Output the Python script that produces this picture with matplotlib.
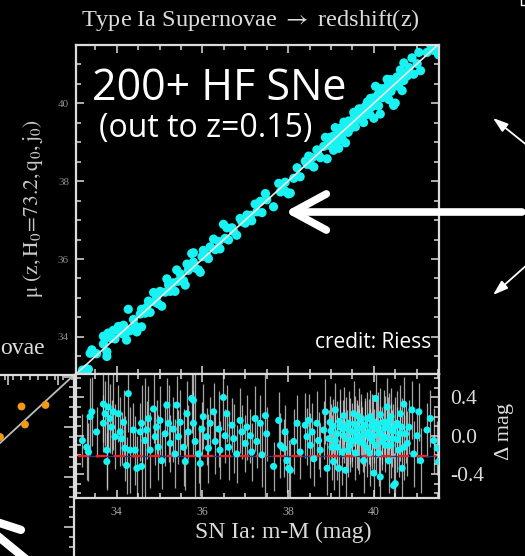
import matplotlib
matplotlib.use('Agg')
import matplotlib.pyplot as plt
from matplotlib.lines import Line2D
from matplotlib.ticker import MultipleLocator, FixedLocator, FixedFormatter
import numpy as np

plt.rcParams['font.family'] = ['Liberation Serif', 'DejaVu Serif']
plt.rcParams['mathtext.fontset'] = 'stix'

# SN Ia distance modulus (x) and Hubble residual (Delta mag) with error bars
resid_m = [
    33.20, 33.30, 33.34, 33.38, 33.42, 33.53, 33.69, 33.73, 33.69, 33.77,
    33.77, 33.80, 33.84, 33.88, 33.92, 33.96, 34.04, 34.08, 34.12, 34.16,
    34.19, 34.23, 34.27, 34.31, 34.39, 34.43, 34.47, 34.55, 34.58, 34.58,
    34.66, 34.70, 34.74, 34.78, 34.86, 34.90, 34.93, 34.97, 35.01, 35.05,
    35.13, 35.17, 35.21, 35.25, 35.32, 35.36, 35.40, 35.44, 35.48, 35.56,
    35.60, 35.64, 35.67, 35.75, 35.79, 35.79, 35.83, 35.91, 35.95, 35.99,
    36.02, 36.10, 36.14, 36.18, 36.26, 36.30, 36.38, 36.41, 36.49, 36.53,
    36.57, 36.61, 36.69, 36.73, 36.80, 36.88, 36.92, 37.00, 37.04, 37.12,
    37.15, 37.23, 37.27, 37.35, 37.39, 37.47, 37.50, 37.66, 37.78, 37.82,
    37.90, 37.93, 37.97, 38.01, 38.05, 38.13, 38.21, 38.28, 38.40, 38.44,
    38.48, 38.52, 38.56, 38.60, 38.67, 38.71, 38.75, 38.83, 38.87, 38.91,
    38.95, 38.98, 39.02, 39.06, 39.10, 39.14, 39.18, 39.22, 39.26, 39.30,
    39.34, 39.37, 39.41, 39.45, 39.49, 39.53, 39.57, 39.61, 39.65, 39.69,
    39.72, 39.76, 39.80, 39.84, 39.88, 39.92, 39.96, 40.00, 40.04, 40.07,
    40.11, 40.15, 40.19, 40.23, 40.27, 40.31, 40.35, 40.39, 40.43, 40.46,
    40.50, 40.54, 40.58, 40.62, 40.66, 40.70, 40.74, 40.78, 40.82, 40.89,
    40.93, 41.01, 41.05, 41.09, 41.24, 41.32, 41.40, 41.48, 41.51, 39.00,
    39.10, 39.20, 39.30, 39.35, 39.45, 39.50, 39.55, 39.60, 39.70, 39.75,
    39.80, 39.85, 39.90, 39.95, 40.00, 40.05, 40.10, 40.15, 40.20, 40.25,
    40.30, 40.35, 40.40, 40.45, 40.50, 40.55, 40.60, 40.65, 39.15, 39.40,
    39.65, 39.90, 40.15, 40.40, 40.70, 39.05, 39.28, 39.62, 39.98, 40.33,
]
resid_dm = [
    -0.05, -0.12, -0.17, 0.20, 0.25, 0.04, 0.33, 0.23, 0.13, -0.15,
    -0.27, 0.30, 0.18, 0.09, 0.25, -0.01, 0.23, 0.04, -0.03, 0.14,
    -0.13, -0.31, 0.44, -0.15, 0.06, -0.15, -0.34, 0.04, 0.13, -0.32,
    -0.05, 0.06, 0.18, -0.15, 0.28, -0.01, 0.09, -0.12, 0.16, -0.26,
    0.02, 0.32, 0.13, -0.08, 0.07, -0.19, 0.32, -0.01, 0.14, -0.12,
    -0.27, 0.23, 0.04, 0.39, 0.37, 0.13, -0.06, -0.19, -0.29, 0.07,
    0.20, -0.01, -0.13, 0.13, 0.25, -0.06, 0.07, -0.15, 0.40, 0.00,
    0.23, -0.12, 0.11, -0.03, -0.19, 0.16, 0.04, -0.08, 0.09, 0.00,
    -0.17, 0.18, -0.06, 0.13, -0.20, 0.21, 0.02, -0.32, 0.16, -0.10,
    -0.13, 0.04, -0.26, -0.34, -0.36, -0.06, 0.13, -0.17, 0.11, -0.01,
    0.16, -0.10, 0.04, -0.24, 0.13, -0.05, -0.15, 0.06, 0.25, -0.34,
    -0.03, 0.14, -0.12, -0.27, 0.27, 0.02, -0.34, 0.09, -0.17, 0.21,
    -0.36, -0.03, 0.13, -0.10, 0.04, 0.23, -0.18, 0.07, -0.06, 0.16,
    0.00, -0.26, 0.11, -0.13, 0.04, 0.20, -0.05, -0.39, 0.39, 0.07,
    -0.18, -0.43, 0.00, 0.14, -0.10, 0.30, -0.26, 0.06, -0.03, -0.52,
    -0.50, 0.13, -0.15, 0.23, -0.34, 0.33, 0.02, -0.08, 0.09, 0.27,
    -0.19, 0.00, 0.25, -0.26, 0.06, 0.18, -0.05, -0.13, -0.27, 0.05,
    -0.05, 0.15, 0.00, 0.10, 0.05, -0.05, 0.12, 0.00, 0.08, -0.08,
    0.02, 0.18, -0.02, 0.10, 0.00, -0.10, 0.12, 0.03, -0.06, 0.08,
    -0.02, 0.15, -0.10, 0.05, 0.10, -0.04, 0.02, 0.09, -0.12, -0.15,
    0.20, -0.18, 0.22, 0.20, -0.12, 0.10, 0.07, -0.02, 0.15, 0.10,
]
resid_err = [
    0.28, 0.34, 0.30, 0.40, 0.36, 0.26, 0.40, 0.34, 0.30, 0.40,
    0.30, 0.45, 0.36, 0.28, 0.40, 0.34, 0.30, 0.36, 0.28, 0.34,
    0.34, 0.30, 0.40, 0.45, 0.28, 0.36, 0.34, 0.30, 0.40, 0.45,
    0.65, 0.30, 0.34, 0.40, 0.36, 0.30, 0.28, 0.34, 0.36, 0.30,
    0.34, 0.28, 0.40, 0.30, 0.34, 0.36, 0.30, 0.28, 0.34, 0.40,
    0.30, 0.34, 0.28, 0.36, 0.30, 0.34, 0.80, 0.30, 0.34, 0.28,
    0.34, 0.30, 0.36, 0.28, 0.30, 0.34, 0.40, 0.30, 0.34, 0.28,
    0.30, 0.34, 0.28, 0.36, 0.30, 0.34, 0.28, 0.30, 0.34, 0.28,
    0.30, 0.34, 0.28, 0.30, 0.34, 0.85, 0.28, 0.26, 0.30, 0.34,
    0.30, 0.28, 0.34, 0.30, 0.28, 0.34, 0.30, 0.28, 0.34, 0.30,
    0.28, 0.34, 0.30, 0.28, 0.34, 0.30, 0.28, 0.30, 0.34, 0.28,
    0.30, 0.28, 0.34, 0.30, 0.28, 0.34, 0.30, 0.28, 0.34, 0.30,
    0.28, 0.30, 0.34, 0.28, 0.30, 0.34, 0.28, 0.30, 0.34, 0.28,
    0.30, 0.34, 0.28, 0.30, 0.34, 0.28, 0.30, 0.34, 0.28, 0.30,
    0.34, 0.28, 0.30, 0.34, 0.28, 0.30, 0.34, 0.28, 0.30, 0.34,
    0.30, 0.34, 0.28, 0.30, 0.34, 0.28, 0.30, 0.34, 0.28, 0.30,
    0.34, 0.28, 0.30, 0.34, 0.28, 0.30, 0.34, 0.28, 0.30, 0.28,
    0.30, 0.34, 0.28, 0.30, 0.34, 0.28, 0.30, 0.34, 0.28, 0.30,
    0.34, 0.28, 0.30, 0.34, 0.28, 0.30, 0.34, 0.28, 0.30, 0.34,
    0.28, 0.30, 0.34, 0.28, 0.30, 0.34, 0.28, 0.30, 0.34, 0.28,
    0.30, 0.34, 0.28, 0.30, 0.34, 0.28, 0.30, 0.34, 0.28, 0.30,
]
resid_ref = -0.21          # red dashed reference level
resid_ticks = [0.4, 0.0, -0.4]
resid_ticklabels = ['0.4', '0.0', '-0.4']

# fragment of the neighbouring panel (left edge of the slide)
frag_x = [32.00, 32.07, 32.48, 31.57]
frag_y = [32.42, 32.06, 32.45, 31.81]
frag_fit_x = [29.05, 33.05]
frag_fit_y = [29.37, 33.05]

W, H = 525, 556
CYAN = '#19f2f2'
FG = '#dcdcdc'
SANS = ['Open Sans', 'DejaVu Sans']


def fx(px):
    return px / W


def fy(py):
    return 1 - py / H


fig = plt.figure(figsize=(W / 100, H / 100), dpi=100, facecolor='black')

# ---- upper panel: Hubble diagram
ax_top = fig.add_axes([fx(76), fy(374), fx(439) - fx(76), fy(45) - fy(374)])
ax_bot = fig.add_axes([fx(76), fy(498), fx(439) - fx(76), fy(374) - fy(498)], sharex=ax_top)

m = np.array(resid_m)
dm = np.array(resid_dm)
mu = m + dm

lo, hi = 33.05, 41.52
ax_top.plot([lo, hi], [lo, hi], color='#e8e8e8', lw=1.2, zorder=3)
ax_top.scatter(m, mu, s=44, color=CYAN, edgecolors='none', zorder=2)
ax_top.set_xlim(lo, hi)
ax_top.set_ylim(33.05, 41.49)

for ax in (ax_top, ax_bot):
    ax.set_facecolor('black')
    for sp in ax.spines.values():
        sp.set_color(FG)
        sp.set_linewidth(1.6)
    ax.tick_params(which='both', direction='in', top=True, right=True,
                   color=FG, width=1.1)
    ax.tick_params(which='major', length=6)
    ax.tick_params(which='minor', length=3.5)
    ax.xaxis.set_major_locator(MultipleLocator(2))
    ax.xaxis.set_minor_locator(MultipleLocator(0.5))

ax_top.yaxis.set_major_locator(MultipleLocator(2))
ax_top.yaxis.set_minor_locator(MultipleLocator(0.5))
ax_top.tick_params(labelbottom=False, labelsize=8, labelcolor='#8c8c8c', pad=5)

# ---- lower panel: residuals
ax_bot.errorbar(m, dm, yerr=resid_err, fmt='none', ecolor='#cfcfcf',
                elinewidth=0.9, alpha=0.8, zorder=1)
ax_bot.plot([33.1, 41.45], [resid_ref, resid_ref], color='#203a8c', lw=1.0, zorder=2)
ax_bot.plot([33.1, 41.45], [resid_ref, resid_ref], color='#ff1a1a', lw=1.6,
            dashes=(5, 3), zorder=2)
ax_bot.scatter(m, dm, s=26, color=CYAN, edgecolors='none', zorder=3)
ax_bot.set_ylim(-0.65, 0.645)
ax_bot.yaxis.set_major_locator(FixedLocator(resid_ticks))
ax_bot.yaxis.set_major_formatter(FixedFormatter(resid_ticklabels))
ax_bot.yaxis.set_minor_locator(MultipleLocator(0.1))
ax_bot.tick_params(axis='y', labelleft=False, labelright=True, labelsize=15.5,
                   labelcolor=FG, pad=8)
ax_bot.tick_params(axis='x', labelsize=8.5, labelcolor='#a8a8a8', pad=6)
for lab in ax_bot.get_yticklabels():
    lab.set_horizontalalignment('left')

# ---- fragment of neighbouring plot at left
ax_frag = fig.add_axes([fx(-126), fy(656), fx(74) - fx(-126), fy(375) - fy(656)])
ax_frag.set_facecolor('none')
ax_frag.plot(frag_fit_x, frag_fit_y, color='#bdbdbd', lw=1.3)
ax_frag.scatter(frag_x, frag_y, s=32, color='#f39a12', edgecolors='none', zorder=3)
ax_frag.set_xlim(29.05, 33.05)
ax_frag.set_ylim(27.43, 33.05)
for side in ('left', 'bottom'):
    ax_frag.spines[side].set_visible(False)
for side in ('top', 'right'):
    ax_frag.spines[side].set_color(FG)
    ax_frag.spines[side].set_linewidth(1.6)
ax_frag.xaxis.set_major_locator(MultipleLocator(1.0, offset=0.73))
ax_frag.xaxis.set_minor_locator(MultipleLocator(1 / 6))
ax_frag.yaxis.set_major_locator(MultipleLocator(1.0))
ax_frag.yaxis.set_minor_locator(MultipleLocator(0.2))
ax_frag.tick_params(which='both', direction='in', top=True, right=True, bottom=False,
                    left=False, labelbottom=False, labelleft=False, color=FG, width=1.1)
ax_frag.tick_params(which='major', length=7)
ax_frag.tick_params(which='minor', length=3.5)

# ---- text
fig.text(fx(250), fy(20), r'Type Ia Supernovae $\rightarrow$ redshift(z)', ha='center',
         va='center', fontsize=17.5, color=FG)
fig.text(fx(0), fy(348), 'ovae', ha='left', va='center', fontsize=17, color=FG)
fig.text(fx(33), fy(208), r'$\mathrm{\mu\ (z,H_0\!=\!73.2,q_0,j_0)}$', rotation=90,
         ha='center', va='center', fontsize=15.5, color='#c8c8c8')
fig.text(fx(283), fy(532), 'SN Ia: m-M (mag)', ha='center', va='center',
         fontsize=17, color=FG)
fig.text(fx(505), fy(431), '\u0394 mag', rotation=90, ha='center', va='center',
         fontsize=16, color=FG)
fig.text(fx(92), fy(100), '200+ HF SNe', ha='left', va='baseline', fontsize=31,
         color='white', family=SANS)
fig.text(fx(99), fy(137), '(out to z=0.15)', ha='left', va='baseline', fontsize=23,
         color='white', family=SANS)
fig.text(fx(431), fy(343), 'credit: Riess', ha='right', va='center', fontsize=15,
         color='white', family=SANS)

# ---- slide arrows
fig.add_artist(Line2D([fx(521), fx(521), fx(526)], [fy(-2), fy(5), fy(5)],
                      transform=fig.transFigure, color='white', lw=1.0))
ax_top.annotate('', xy=(fx(285), fy(212)), xytext=(fx(522), fy(212)),
                xycoords='figure fraction', textcoords='figure fraction',
                arrowprops=dict(arrowstyle='->,head_length=2.4,head_width=1.3',
                                lw=5.5, color='white', shrinkA=0, shrinkB=0))
for tip, tail in [((493, 118), (528, 146)), ((493, 295), (528, 264))]:
    ax_top.annotate('', xy=(fx(tip[0]), fy(tip[1])), xytext=(fx(tail[0]), fy(tail[1])),
                    xycoords='figure fraction', textcoords='figure fraction',
                    arrowprops=dict(arrowstyle='-|>,head_length=0.9,head_width=0.3',
                                    lw=1.3, color='white', shrinkA=0, shrinkB=0))
ax_top.annotate('', xy=(fx(-39), fy(506)), xytext=(fx(60), fy(587)),
                xycoords='figure fraction', textcoords='figure fraction',
                annotation_clip=False,
                arrowprops=dict(arrowstyle='->,head_length=3.6,head_width=1.4',
                                lw=6, color='white', shrinkA=0, shrinkB=0))

fig.savefig('out.png', dpi=100, facecolor='black')
